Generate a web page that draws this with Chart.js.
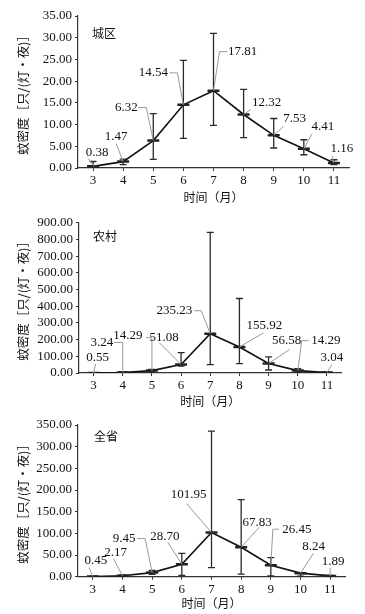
<!DOCTYPE html>
<html><head><meta charset="utf-8">
<script src="https://cdn.jsdelivr.net/npm/chart.js@4/dist/chart.umd.min.js"></script>
<style>
html,body{margin:0;padding:0;background:#fff;}
#wrap{position:relative;width:365px;height:614px;overflow:hidden;background:#fff;}
canvas{position:absolute;left:0;}
</style></head><body>
<div id="wrap">
<canvas id="c1" width="365" height="206" style="top:0;width:365px;height:206px"></canvas>
<canvas id="c2" width="365" height="204" style="top:206px;width:365px;height:204px"></canvas>
<canvas id="c3" width="365" height="204" style="top:410px;width:365px;height:204px"></canvas>
</div>
<script>
// ---- data ----
const months = ['3','4','5','6','7','8','9','10','11'];
const panelNames = ['城区','农村','全省'];
const xTitle = '时间（月）';
const yTitle = '蚊密度［只/(灯・夜)］';

const urbanMean = [0.38, 1.47, 6.32, 14.54, 17.81, 12.32, 7.53, 4.41, 1.16];
const urbanLow  = [0, 0.77, 2.0, 6.8, 9.8, 7.0, 4.6, 3.05, 0.76];
const urbanHigh = [1.5, 2.06, 12.5, 24.8, 31.0, 18.1, 11.4, 6.5, 1.9];

const ruralMean = [0.55, 3.24, 14.29, 51.08, 235.23, 155.92, 56.58, 14.29, 3.04];
const ruralLow  = [0, 0, 8, 42, 50, 56, 18, 6, 0];
const ruralHigh = [2, 8, 21, 122, 842, 446, 96, 26, 6];

const provMean = [0.45, 2.17, 9.45, 28.70, 101.95, 67.83, 26.45, 8.24, 1.89];
const provLow  = [0, 0, 5.5, 3, 21, 6, 2, 1, 0];
const provHigh = [1.5, 4, 14.8, 54, 336, 178, 44, 9.5, 3];

const yMax  = [35, 900, 350];
const yStep = [5, 100, 50];

// ---- label placement (pixel offsets from each point; layout only) ----
const labelLayout = [
  { text: [[4,-14],[-7,-25],[-27,-33],[-30,-32],[29,-39],[23,-12],[21,-17],[19,-22],[8,-14]],
    lead: [[[-5,-8],[1,0]],[[-7,-18],[0,0]],[[-15,-33],[-7,-33],[0,0]],[[-14,-32],[-6,-32],[0,0]],
           [[14,-39],[6,-39],[0,0]],[[7,-5],[0,0]],[[10,-9],[0,0]],[[8,-15],[0,0]],[[-2,-7],[0,0]]] },
  { text: [[4,-15],[-21,-30],[-24,-35],[-17,-27],[-36,-23],[25,-21],[18,-23],[28,-30],[5,-15]],
    lead: [[[2,-9],[0,0]],[[-9,-30],[0,-30],[0,0]],[[-6,-33],[0,-33],[0,0]],[[-22,-22],[0,0]],
           [[-16,-23],[-9,-23],[0,0]],[[24,-14],[0,0]],[[21,-14],[0,0]],[[11,-30],[4,-30],[0,0]],[[5,-8],[0,0]]] },
  { text: [[3,-16],[-7,-23],[-28,-34],[-17,-28],[-23,-38],[16,-25],[26,-36],[13,-27],[3,-14]],
    lead: [[[-4,-9],[0,0]],[[-9,-17],[0,0]],[[-15,-34],[-7,-34],[0,0]],[[-14,-22],[0,0]],
           [[-25,-29],[0,0]],[[18,-20],[0,0]],[[8,-36],[2,-36],[0,0]],[[13,-20],[0,0]],[[0,-8],[0,0]]] }
];

const serif = '"Liberation Serif", "Noto Sans CJK SC", serif';
const cjk = '"Noto Sans CJK SC", "Liberation Serif", sans-serif';

const errPlugin = {
  id: 'errbars',
  beforeDatasetsDraw(chart, args, o) {
    const ctx = chart.ctx, xs = chart.scales.x, ys = chart.scales.y;
    ctx.save();
    ctx.beginPath();
    ctx.rect(chart.chartArea.left, chart.chartArea.top - 2, chart.chartArea.right - chart.chartArea.left, chart.chartArea.bottom - chart.chartArea.top + 2);
    ctx.clip();
    ctx.strokeStyle = '#2a2a2a';
    ctx.lineWidth = 1.3;
    o.low.forEach((lo, i) => {
      const x = xs.getPixelForValue(i);
      const y1 = ys.getPixelForValue(lo), y2 = ys.getPixelForValue(o.high[i]);
      ctx.beginPath();
      ctx.moveTo(x, y1); ctx.lineTo(x, y2);
      ctx.moveTo(x - 3.5, y1); ctx.lineTo(x + 3.5, y1);
      ctx.moveTo(x - 3.5, y2); ctx.lineTo(x + 3.5, y2);
      ctx.stroke();
    });
    ctx.restore();
  },
  afterDatasetsDraw(chart, args, o) {
    const ctx = chart.ctx, xs = chart.scales.x, ys = chart.scales.y;
    const lay = o.layout;
    ctx.save();
    ctx.strokeStyle = '#9a9a9a';
    ctx.lineWidth = 1;
    o.values.forEach((v, i) => {
      const px = xs.getPixelForValue(i), py = ys.getPixelForValue(v);
      const pts = lay.lead[i];
      ctx.beginPath();
      pts.forEach((p, k) => { if (k === 0) ctx.moveTo(px + p[0], py + p[1]); else ctx.lineTo(px + p[0], py + p[1]); });
      ctx.stroke();
    });
    ctx.fillStyle = '#111';
    ctx.font = '13px ' + serif;
    ctx.textAlign = 'center';
    ctx.textBaseline = 'middle';
    o.values.forEach((v, i) => {
      const px = xs.getPixelForValue(i), py = ys.getPixelForValue(v);
      const t = lay.text[i];
      ctx.fillText(v.toFixed(2), px + t[0], py + t[1]);
    });
    ctx.font = '12px ' + cjk;
    ctx.textAlign = 'center';
    ctx.fillText(o.name, chart.chartArea.left + o.nameDx, chart.chartArea.top + o.nameDy);
    ctx.restore();
  }
};

function makeChart(id, idx, mean, low, high, geo) {
  return new Chart(document.getElementById(id), {
    type: 'line',
    data: {
      labels: months,
      datasets: [{
        data: mean,
        borderColor: '#111',
        borderWidth: 1.6,
        tension: 0,
        pointStyle: 'line',
        pointRadius: 6,
        pointBorderWidth: 2.5,
        pointBorderColor: '#222',
        pointBackgroundColor: '#222'
      }]
    },
    options: {
      responsive: false,
      animation: false,
      events: [],
      layout: { padding: { top: geo.top, right: geo.right, bottom: geo.bottom, left: 0 } },
      plugins: {
        legend: { display: false },
        tooltip: { enabled: false },
        errbars: { low: low, high: high, values: mean, layout: labelLayout[idx], name: panelNames[idx], nameDx: geo.nameDx, nameDy: geo.nameDy }
      },
      scales: {
        x: {
          type: 'category',
          offset: true,
          afterFit: s => { s.height = geo.xh; },
          grid: { display: true, drawOnChartArea: false, drawTicks: true, tickLength: 3, color: '#333', offset: false },
          border: { display: true, color: '#333', width: 1.2 },
          ticks: { color: '#111', font: { family: serif, size: 13 }, padding: 2, maxRotation: 0, autoSkip: false },
          title: { display: true, text: xTitle, color: '#111', font: { family: cjk, size: 12 }, padding: { top: 0, bottom: geo.tpad } }
        },
        y: {
          min: 0, max: yMax[idx],
          afterFit: s => { s.width = geo.yw; },
          grid: { display: true, drawOnChartArea: false, drawTicks: true, tickLength: 3, color: '#333' },
          border: { display: true, color: '#333', width: 1.2 },
          ticks: { stepSize: yStep[idx], color: '#111', font: { family: serif, size: 13 }, padding: 3, autoSkip: false,
                   callback: v => Number(v).toFixed(2) },
          title: { display: true, text: yTitle, color: '#111', font: { family: cjk, size: 12.5, lineHeight: 1.2 }, padding: { top: 15.5, bottom: 0 } }
        }
      }
    },
    plugins: [errPlugin]
  });
}

makeChart('c1', 0, urbanMean, urbanLow, urbanHigh, { top: 16, right: 16, bottom: 1, xh: 37, yw: 78, tpad: 0, nameDx: 26, nameDy: 17 });
makeChart('c2', 1, ruralMean, ruralLow, ruralHigh, { top: 16.7, right: 23.5, bottom: 1, xh: 36, yw: 79, tpad: 0, nameDx: 26, nameDy: 14 });
makeChart('c3', 2, provMean, provLow, provHigh, { top: 15, right: 20, bottom: 3, xh: 34.3, yw: 78, tpad: 0, nameDx: 28, nameDy: 11 });
</script>
</body></html>
